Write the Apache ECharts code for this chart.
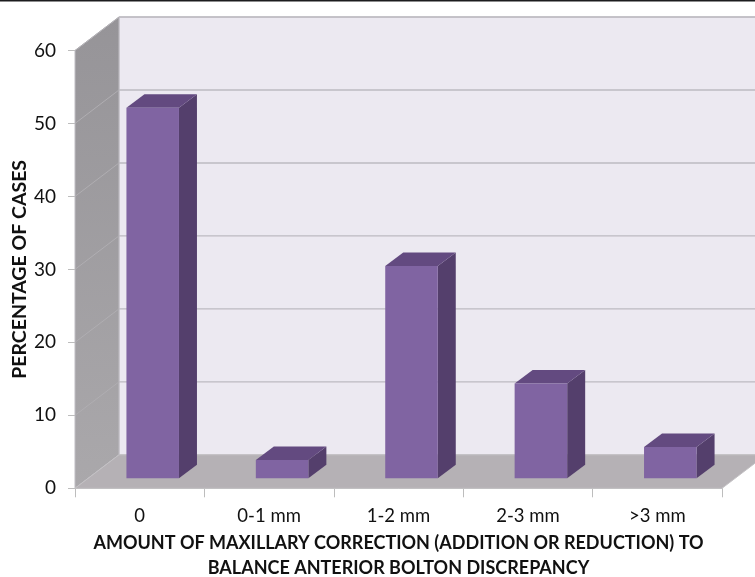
<!DOCTYPE html>
<html>
<head>
<meta charset="utf-8">
<style>html,body{margin:0;padding:0;background:#fff}#c{width:755px;height:577px}</style>
<script src="https://cdn.jsdelivr.net/npm/echarts@6/dist/echarts.min.js"></script>
</head>
<body>
<div id="c"></div>
<script>
// Share of cases by amount of maxillary correction
const categories = ['0', '0-1 mm', '1-2 mm', '2-3 mm', '>3 mm'];
const percentages = [50.8, 2.5, 29.1, 13, 4.3];
const gridValues = [10, 20, 30, 40, 50, 60];
const yAxisTitle = 'PERCENTAGE OF CASES';
const xAxisTitle = 'AMOUNT OF MAXILLARY CORRECTION (ADDITION OR REDUCTION) TO\nBALANCE ANTERIOR BOLTON DISCREPANCY';

// Oblique projection used for the box: room depth and bar depth in pixels
const ROOM_DX = 44, ROOM_DY = -33.5;
const BAR_INSET_DX = 13, BAR_INSET_DY = -10;
const BAR_DX = 18, BAR_DY = -13.5;
const BAR_WIDTH_RATIO = 0.406;

const poly = (points, style) => ({ type: 'polygon', shape: { points }, style });

function renderRoom(params, api) {
  const g = params.coordSys;
  const left = g.x, right = g.x + g.width, top = g.y, bottom = g.y + g.height;
  const edge = '#bfbdc3';
  return {
    type: 'group',
    children: [
      // back wall
      poly([[left + ROOM_DX, top + ROOM_DY], [right + ROOM_DX, top + ROOM_DY],
            [right + ROOM_DX, bottom + ROOM_DY], [left + ROOM_DX, bottom + ROOM_DY]],
           { fill: '#ece9f1', stroke: edge, lineWidth: 1 }),
      // side wall
      poly([[left, top], [left + ROOM_DX, top + ROOM_DY],
            [left + ROOM_DX, bottom + ROOM_DY], [left, bottom]],
           { fill: new echarts.graphic.LinearGradient(0, 0, 0, 1, [
               { offset: 0, color: '#969498' }, { offset: 1, color: '#aaa8ab' }]),
             stroke: edge, lineWidth: 1 }),
      // floor
      poly([[left, bottom], [left + ROOM_DX, bottom + ROOM_DY],
            [right + ROOM_DX, bottom + ROOM_DY], [right, bottom]],
           { fill: '#b5b1b5', stroke: '#c4c2c5', lineWidth: 1 })
    ]
  };
}

function renderGridLine(params, api) {
  const g = params.coordSys;
  const y = api.coord([0, api.value(1)])[1];
  const left = g.x, right = g.x + g.width;
  return {
    type: 'group',
    children: [
      { type: 'line', shape: { x1: left, y1: y, x2: left + ROOM_DX, y2: y + ROOM_DY },
        style: { stroke: '#b0aeb2', lineWidth: 1 } },
      { type: 'line', shape: { x1: left + ROOM_DX, y1: y + ROOM_DY, x2: right + ROOM_DX, y2: y + ROOM_DY },
        style: { stroke: '#bdbac1', lineWidth: 1.4 } }
    ]
  };
}

function renderBar(params, api) {
  const i = api.value(0);
  const base = api.coord([i, 0]);
  const tip = api.coord([i, api.value(1)]);
  const w = api.size([1, 0])[0] * BAR_WIDTH_RATIO;
  const x0 = base[0] + BAR_INSET_DX - w / 2, x1 = x0 + w;
  const yb = base[1] + BAR_INSET_DY, yt = tip[1] + BAR_INSET_DY;
  return {
    type: 'group',
    children: [
      // right face
      poly([[x1, yt], [x1 + BAR_DX, yt + BAR_DY], [x1 + BAR_DX, yb + BAR_DY], [x1, yb]],
           { fill: '#543f6c' }),
      // top face
      poly([[x0, yt], [x0 + BAR_DX, yt + BAR_DY], [x1 + BAR_DX, yt + BAR_DY], [x1, yt]],
           { fill: '#634a80' }),
      // front face
      poly([[x0, yt], [x1, yt], [x1, yb], [x0, yb]],
           { fill: '#8064a2' })
    ]
  };
}

const chart = echarts.init(document.getElementById('c'), null, { renderer: 'canvas' });
const font = 'Lato';
chart.setOption({
  animation: false,
  backgroundColor: '#ffffff',
  textStyle: { fontFamily: font },
  grid: { left: 75, right: 33, top: 50.5, bottom: 88.7, containLabel: false, outerBoundsMode: 'none' },
  xAxis: {
    type: 'category',
    data: categories,
    boundaryGap: true,
    axisLine: { lineStyle: { color: '#bdbdbd', width: 1 } },
    axisTick: { show: true, alignWithLabel: false, length: 9, lineStyle: { color: '#bdbdbd' } },
    axisLabel: { color: '#111', fontSize: 18.5, fontFamily: font, margin: 18, interval: 0 },
    name: xAxisTitle,
    nameLocation: 'middle',
    nameGap: 42,
    nameMoveOverlap: false,
    nameTextStyle: { color: '#111', fontSize: 18, fontWeight: 'bold', fontFamily: font, lineHeight: 25, verticalAlign: 'top' }
  },
  yAxis: {
    type: 'value',
    min: 0, max: 60, interval: 10,
    splitLine: { show: false },
    axisLine: { show: true, lineStyle: { color: '#bdbdbd', width: 1 } },
    axisTick: { show: true, length: 7, lineStyle: { color: '#bdbdbd' } },
    axisLabel: { color: '#111', fontSize: 19, fontFamily: font, margin: 19 },
    name: yAxisTitle,
    nameLocation: 'middle',
    nameGap: 45,
    nameMoveOverlap: false,
    nameTextStyle: { color: '#111', fontSize: 19.5, fontWeight: 'bold', fontFamily: font }
  },
  graphic: [{
    type: 'rect', left: 0, top: 0, z: 100,
    shape: { width: 755, height: 1.5 }, style: { fill: '#1c1c1e' }
  }],
  series: [
    { type: 'custom', z: 1, silent: true, renderItem: renderRoom, data: [[0, 0]], encode: { x: 0, y: 1 } },
    { type: 'custom', z: 2, silent: true, renderItem: renderGridLine,
      data: gridValues.map(v => [0, v]), encode: { x: 0, y: 1 } },
    { type: 'custom', z: 3, renderItem: renderBar,
      data: percentages.map((v, i) => [i, v]), encode: { x: 0, y: 1 } }
  ]
});
</script>
</body>
</html>
